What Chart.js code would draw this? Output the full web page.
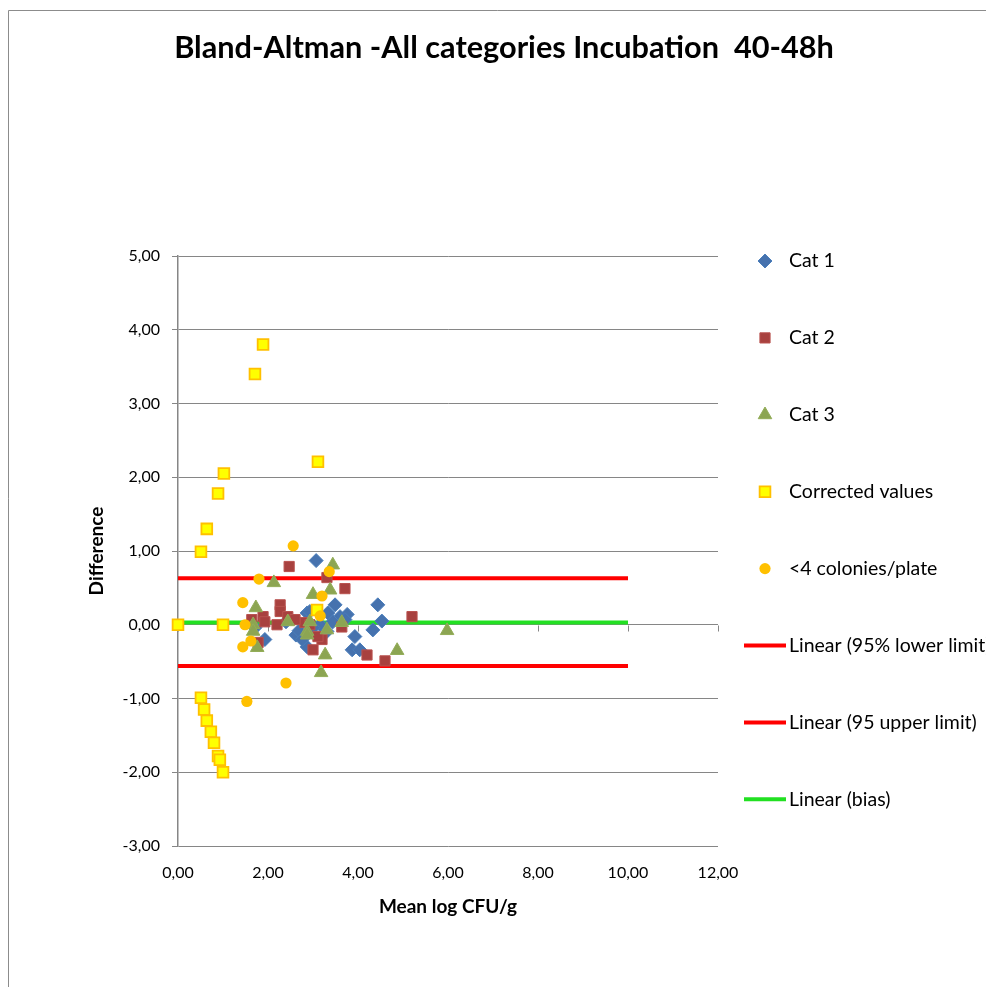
<!DOCTYPE html>
<html><head><meta charset="utf-8">
<script src="https://cdn.jsdelivr.net/npm/chart.js@4.4.0/dist/chart.umd.min.js"></script>
<style>html,body{margin:0;padding:0;background:#fff;}#wrap{position:relative;width:986px;height:987px;}</style>
</head><body><div id="wrap"><canvas id="c" width="986" height="987"></canvas></div>
<script>
// ---- data ----
const chartTitle = 'Bland-Altman -All categories Incubation  40-48h';
const xTitle = 'Mean log CFU/g';
const yTitle = 'Difference';
const seriesNames = ['Cat 1','Cat 2','Cat 3','Corrected values','<4 colonies/plate','Linear (95% lower limit)','Linear (95 upper limit)','Linear (bias)'];

const cat1X = [3.07,1.93,2.62,2.69,2.87,2.87,2.93,3.33,3.49,3.60,3.76,3.71,3.44,3.16,4.44,4.53,4.33,3.93,3.87,4.04,2.40,2.76,1.71,3.31,3.00];
const cat1Y = [0.87,-0.20,-0.14,-0.08,-0.30,0.16,0.18,0.16,0.27,0.11,0.14,0.07,0.04,0.00,0.27,0.05,-0.07,-0.16,-0.34,-0.34,0.04,-0.20,-0.04,-0.09,-0.04];

const cat2X = [2.47,3.31,3.71,5.20,4.60,4.20,3.00,3.20,3.11,2.82,2.27,2.27,1.89,1.93,2.20,2.44,2.60,1.78,1.64,3.64,2.93];
const cat2Y = [0.79,0.64,0.49,0.11,-0.49,-0.41,-0.34,-0.20,-0.16,0.03,0.27,0.18,0.11,0.04,0.00,0.11,0.07,-0.24,0.07,-0.03,0.00];

const cat3X = [2.13,3.44,3.00,3.38,1.73,1.67,1.67,1.76,2.44,2.87,2.93,2.87,3.31,3.64,5.98,4.87,3.18,3.27];
const cat3Y = [0.57,0.81,0.41,0.47,0.23,0.00,-0.09,-0.31,0.04,-0.09,0.04,-0.14,-0.07,0.03,-0.08,-0.35,-0.65,-0.41];

const corrX = [1.89,1.71,3.11,1.02,0.89,0.64,0.51,0.00,1.00,3.09,0.51,0.58,0.64,0.73,0.80,0.89,0.93,1.00];
const corrY = [3.80,3.40,2.21,2.05,1.78,1.30,0.99,0.00,0.00,0.20,-0.99,-1.15,-1.30,-1.45,-1.60,-1.78,-1.83,-2.00];

const lowX = [2.56,1.80,3.36,1.44,3.20,1.49,1.62,1.44,3.16,1.53,2.40];
const lowY = [1.07,0.62,0.72,0.30,0.39,0.00,-0.22,-0.30,0.12,-1.04,-0.79];

const limitX = [0, 10];
const lowerLimit = -0.56;
const upperLimit = 0.63;
const bias = 0.03;

const xTicks = [0,2,4,6,8,10,12];
const yTicks = [-3,-2,-1,0,1,2,3,4,5];

// ---- helpers ----
const pts = (xs, ys) => xs.map((x, i) => ({x, y: ys[i]}));
const hline = v => limitX.map(x => ({x, y: v}));
const fmt = v => Number(v).toFixed(2).replace('.', ',');
const FONT = 'Lato';

const frame = {
  id: 'frame',
  beforeDraw(chart) {
    const ctx = chart.ctx;
    ctx.save();
    ctx.fillStyle = '#fff';
    ctx.fillRect(0, 0, chart.width, chart.height);
    ctx.strokeStyle = '#8c8c8c';
    ctx.lineWidth = 1;
    ctx.beginPath();
    ctx.moveTo(8.5, chart.height);
    ctx.lineTo(8.5, 10.5);
    ctx.lineTo(chart.width, 10.5);
    ctx.stroke();
    ctx.fillStyle = '#000';
    ctx.font = 'bold 30.7px ' + FONT;
    ctx.textAlign = 'center';
    ctx.textBaseline = 'middle';
    ctx.fillText(chartTitle, 504, 48);
    ctx.restore();
  }
};

const xAxisAtZero = {
  id: 'xAxisAtZero',
  beforeDatasetsDraw(chart) {
    const {ctx, scales: {x, y}} = chart;
    const y0 = Math.round(y.getPixelForValue(0)) + 0.5;
    ctx.save();
    ctx.strokeStyle = '#868686';
    ctx.lineWidth = 1;
    ctx.beginPath();
    xTicks.forEach(v => {
      const px = Math.round(x.getPixelForValue(v)) + 0.5;
      ctx.moveTo(px, y0);
      ctx.lineTo(px, y0 + 6);
    });
    ctx.stroke();
    ctx.restore();
  }
};

const customLegend = {
  id: 'customLegend',
  afterDraw(chart) {
    const ctx = chart.ctx;
    const top = 261, step = 76.9, mx = 765, tx = 789;
    ctx.save();
    chart.data.datasets.forEach((ds, i) => {
      const yy = top + i * step;
      if (ds.showLine) {
        ctx.strokeStyle = ds.borderColor;
        ctx.lineWidth = ds.borderWidth;
        ctx.beginPath();
        ctx.moveTo(744, yy);
        ctx.lineTo(786, yy);
        ctx.stroke();
      } else {
        ctx.fillStyle = ds.backgroundColor;
        ctx.strokeStyle = ds.borderColor;
        ctx.lineWidth = ds.borderWidth;
        Chart.helpers.drawPoint(ctx, {pointStyle: ds.pointStyle, radius: ds.pointRadius, borderWidth: ds.borderWidth, rotation: 0}, mx, yy);
      }
      ctx.fillStyle = '#000';
      ctx.font = '19.5px ' + FONT;
      ctx.textBaseline = 'middle';
      ctx.textAlign = 'left';
      ctx.fillText(ds.label, tx, yy);
    });
    ctx.restore();
  }
};

const markerSet = (label, data, style, radius, bg, border, bw, order) => ({
  label, data, pointStyle: style, pointRadius: radius, pointHoverRadius: radius,
  backgroundColor: bg, borderColor: border, borderWidth: bw, showLine: false, order, clip: false
});
const lineSet = (label, data, color, order) => ({
  label, data, showLine: true, borderColor: color, backgroundColor: color, borderWidth: 4,
  pointRadius: 0, pointHoverRadius: 0, order
});

new Chart(document.getElementById('c'), {
  type: 'scatter',
  data: {
    datasets: [
      markerSet(seriesNames[0], pts(cat1X, cat1Y), 'rectRot', 7, '#4672AE', '#4A7EBB', 1, 5),
      markerSet(seriesNames[1], pts(cat2X, cat2Y), 'rect', 7.2, '#A8413F', '#B9524F', 1, 4),
      markerSet(seriesNames[2], pts(cat3X, cat3Y), 'triangle', 7.8, '#8CA552', '#93AD58', 1, 3),
      markerSet(seriesNames[3], pts(corrX, corrY), 'rect', 7.6, '#FFFF00', '#FFC000', 1.8, 2),
      markerSet(seriesNames[4], pts(lowX, lowY), 'circle', 5.6, '#FFC000', '#FFC000', 0, 1),
      lineSet(seriesNames[5], hline(lowerLimit), '#FF0000', 6),
      lineSet(seriesNames[6], hline(upperLimit), '#FF0000', 7),
      lineSet(seriesNames[7], hline(bias), '#22E022', 8)
    ]
  },
  options: {
    responsive: false,
    animation: false,
    devicePixelRatio: 1,
    layout: {padding: {left: 0, right: 268, top: 256, bottom: 0}},
    plugins: {
      legend: {display: false},
      tooltip: {enabled: false},
      title: {display: false}
    },
    scales: {
      x: {
        type: 'linear', min: 0, max: 12,
        afterFit: s => { s.height = 141; },
        afterBuildTicks: s => { s.ticks = xTicks.map(v => ({value: v})); },
        grid: {display: false},
        border: {display: false},
        ticks: {color: '#000', padding: 9, font: {family: FONT, size: 16}, callback: fmt, maxRotation: 0},
        title: {display: true, text: xTitle, color: '#000', font: {family: FONT, size: 19, weight: 'bold', lineHeight: 1.2}, padding: {top: 0, bottom: 68.6}}
      },
      y: {
        type: 'linear', min: -3, max: 5,
        afterFit: s => { s.width = 178; },
        afterBuildTicks: s => { s.ticks = yTicks.map(v => ({value: v})); },
        grid: {color: '#868686', lineWidth: 1, tickLength: 6, drawTicks: true},
        border: {display: true, color: '#868686', width: 1.5},
        ticks: {color: '#000', padding: 12, font: {family: FONT, size: 16}, callback: fmt},
        title: {display: true, text: yTitle, color: '#000', font: {family: FONT, size: 19, weight: 'bold', lineHeight: 1.2}, padding: {top: 85.6, bottom: 0}}
      }
    }
  },
  plugins: [frame, xAxisAtZero, customLegend]
});
</script></body></html>
